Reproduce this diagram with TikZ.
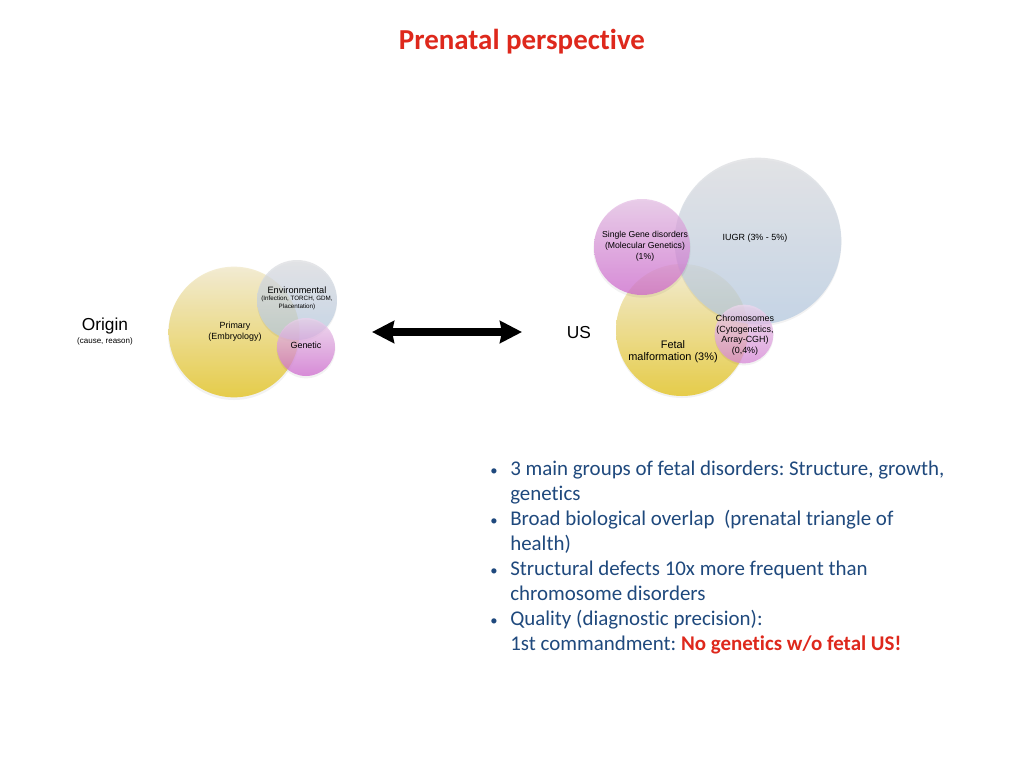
\documentclass[tikz,border=0pt]{standalone}
\usepackage{fontspec}
\setmainfont{Liberation Sans}
\newfontfamily\calfont[Ligatures={NoCommon}]{Carlito}
\usetikzlibrary{arrows.meta}
\definecolor{ytop}{RGB}{242,234,205}
\definecolor{ybot}{RGB}{228,198,45}
\definecolor{btop}{RGB}{220,221,224}
\definecolor{bbot}{RGB}{180,201,225}
\definecolor{ptop}{RGB}{228,190,228}
\definecolor{pbot}{RGB}{205,100,205}
\definecolor{txtblue}{RGB}{31,73,125}
\definecolor{slred}{RGB}{222,40,28}
\tikzset{
  bub/.style={circle, inner sep=0pt, opacity=0.72},
  yel/.style={bub, top color=ytop, bottom color=ybot, opacity=0.85},
  blu/.style={bub, top color=btop, bottom color=bbot},
  pnk/.style={bub, top color=ptop, bottom color=pbot},
  shad/.style={circle, inner sep=0pt, fill=black, opacity=0.05},
  lbl/.style={inner sep=0pt, align=center, font=\fontsize{6.7}{8.2}\selectfont},
  bul/.style={anchor=base west, inner sep=0pt, text=txtblue, font=\calfont\fontsize{15.7}{18.75}\selectfont},
}
\frenchspacing
\begin{document}
\begin{tikzpicture}[x=0.75pt,y=-0.75pt]
\useasboundingbox[fill=white] (0,0) rectangle (1024,768);

\node[anchor=base, inner sep=0pt, text=slred, font=\calfont\bfseries\fontsize{21.7}{26}\selectfont] (title) at (522,49) {Prenatal perspective};

% left cluster
\node[shad, minimum size=99pt] (s1) at (234,334) {};
\node[yel, minimum size=98pt] (prim) at (234,332) {};
\node[shad, minimum size=60pt] (s2) at (297,302) {};
\node[blu, minimum size=60pt] (env) at (297,300) {};
\node[shad, minimum size=44pt] (s3) at (306,349) {};
\node[pnk, minimum size=43.5pt, top color=ptop!70!white] (gen) at (306,347) {};

\node[lbl] (primt) at (235,332) {Primary\\(Embryology)};
\node[lbl, font=\fontsize{6.9}{8}\selectfont] (envt) at (297,290) {Environmental};
\node[lbl, font=\fontsize{4.7}{6}\selectfont] (envs) at (297,303) {(Infection, TORCH, GDM,\\Placentation)};
\node[lbl] (gent) at (306,345) {Genetic};

\node[inner sep=0pt, font=\fontsize{13}{15}\selectfont] (orig) at (105,326) {Origin};
\node[inner sep=0pt, font=\fontsize{6}{7}\selectfont] (cause) at (105,341) {(cause, reason)};

% arrow
\coordinate (al) at (372,332);
\coordinate (ar) at (522,332);
\draw[line width=6pt, {Stealth[length=16.5pt,width=16.5pt,inset=1.5pt]}-{Stealth[length=16.5pt,width=16.5pt,inset=1.5pt]}] (al) -- (ar);

\node[inner sep=0pt, font=\fontsize{13}{15}\selectfont] (us) at (579,333) {US};

% right cluster
\node[shad, minimum size=99pt] (s4) at (682,332) {};
\node[yel, minimum size=99pt] (fet) at (682,330) {};
\node[shad, minimum size=125pt] (s5) at (758,243) {};
\node[blu, minimum size=125pt] (iugr) at (758,241) {};
\node[shad, minimum size=73pt] (s6) at (642,249) {};
\node[pnk, minimum size=72pt] (sing) at (642,247) {};
\node[shad, minimum size=44pt] (s7) at (744,336) {};
\node[pnk, minimum size=44pt, top color=ptop!60!white, bottom color=pbot!80!white] (chr) at (744,334) {};

\node[lbl, font=\fontsize{6.5}{8.3}\selectfont] (singt) at (645,246) {Single Gene disorders\\(Molecular Genetics)\\(1\%)};
\node[lbl] (iugrt) at (755,238) {IUGR (3\% - 5\%)};
\node[lbl, font=\fontsize{6.7}{7.9}\selectfont] (chrt) at (745,335) {Chromosomes\\(Cytogenetics,\\Array-CGH)\\(0,4\%)};
\node[lbl, font=\fontsize{8.2}{9}\selectfont] (fett) at (673,352) {Fetal\\malformation (3\%)};

% bullets
\foreach \y/\n in {475/b1,525/b2,575/b3,625/b4}{
  \node[bul, font=\calfont\fontsize{11}{14}\selectfont] (\n) at (490,\y) {•};
}
\node[bul] (l1) at (510,475) {3 main groups of fetal disorders: Structure, growth,};
\node[bul] (l2) at (510,500) {genetics};
\node[bul] (l3) at (510,525) {Broad biological overlap\ \ (prenatal triangle of};
\node[bul] (l4) at (510,550) {health)};
\node[bul] (l5) at (510,575) {Structural defects 10x more frequent than};
\node[bul] (l6) at (510,600) {chromosome disorders};
\node[bul] (l7) at (510,625) {Quality (diagnostic precision):};
\node[bul] (l8) at (510,650) {1st commandment: \textcolor{slred}{\bfseries No genetics w/o fetal US!}};
\end{tikzpicture}
\end{document}
